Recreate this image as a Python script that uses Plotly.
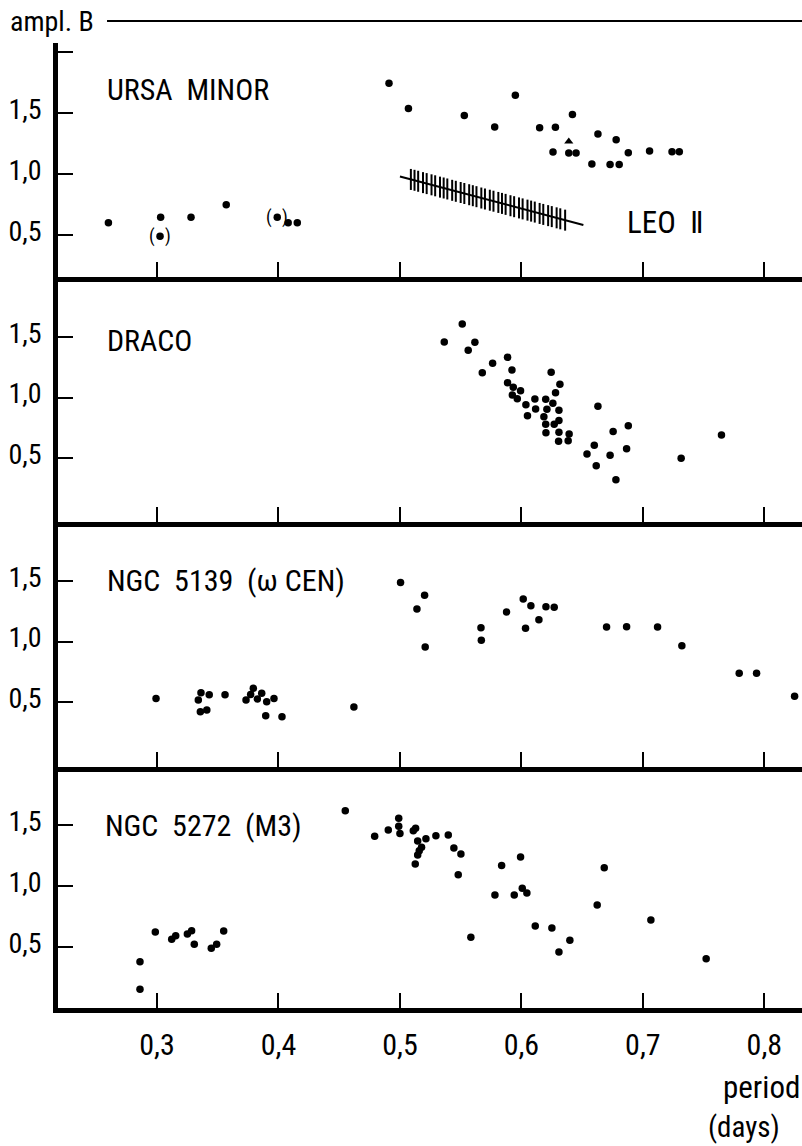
import plotly.graph_objects as go

# ---------------- data ----------------
X_TICKS = [0.3, 0.4, 0.5, 0.6, 0.7, 0.8]
X_TICK_TEXT = ["0,3", "0,4", "0,5", "0,6", "0,7", "0,8"]
Y_TICKS = [0.5, 1.0, 1.5]
Y_TICK_TEXT = ["0,5", "1,0", "1,5"]

# URSA MINOR
URSA_PERIOD = [0.260, 0.303, 0.328, 0.357, 0.408, 0.4155, 0.491, 0.507, 0.553, 0.578,
               0.595, 0.615, 0.628, 0.642, 0.626, 0.639, 0.645, 0.663, 0.678, 0.688,
               0.7055, 0.724, 0.730, 0.658, 0.673, 0.6805]
URSA_AMPL = [0.60, 0.645, 0.645, 0.746, 0.60, 0.60, 1.74, 1.535, 1.478, 1.383,
             1.642, 1.377, 1.38, 1.486, 1.178, 1.17, 1.17, 1.325, 1.279, 1.172,
             1.186, 1.18, 1.18, 1.08, 1.076, 1.076]
URSA_UNCERTAIN_PERIOD = [0.3025, 0.399]
URSA_UNCERTAIN_AMPL = [0.49, 0.645]
URSA_TRIANGLE_PERIOD = [0.639]
URSA_TRIANGLE_AMPL = [1.265]

# LEO II mean relation and individual stars (hatches)
LEO_LINE_PERIOD = [0.500, 0.651]
LEO_LINE_AMPL = [0.978, 0.582]
LEO_PERIOD = [0.509, 0.512, 0.515, 0.519, 0.522, 0.526, 0.529, 0.533, 0.536, 0.539,
              0.543, 0.546, 0.550, 0.553, 0.557, 0.560, 0.563, 0.567, 0.570, 0.574,
              0.577, 0.581, 0.584, 0.587, 0.591, 0.594, 0.598, 0.601, 0.605, 0.608,
              0.611, 0.615, 0.618, 0.622, 0.625, 0.629, 0.632, 0.636]
LEO_AMPL = [0.954, 0.947, 0.939, 0.928, 0.920, 0.910, 0.902, 0.891, 0.884, 0.876,
            0.865, 0.857, 0.847, 0.839, 0.829, 0.821, 0.813, 0.802, 0.794, 0.784,
            0.776, 0.766, 0.758, 0.750, 0.739, 0.731, 0.721, 0.713, 0.703, 0.695,
            0.687, 0.676, 0.668, 0.658, 0.650, 0.640, 0.632, 0.621]

# DRACO
DRACO_PERIOD = [0.5365, 0.5513, 0.5617, 0.5562, 0.5678, 0.5763, 0.5886, 0.5922, 0.5886, 0.5933,
                0.5993, 0.5925, 0.5966, 0.6037, 0.6111, 0.6117, 0.605, 0.620, 0.6245, 0.6317,
                0.6281, 0.6259, 0.621, 0.6185, 0.6309, 0.620, 0.627, 0.6309, 0.6202, 0.6309,
                0.6393, 0.6306, 0.6385, 0.663, 0.6755, 0.688, 0.660, 0.654, 0.673, 0.6866,
                0.6616, 0.6778, 0.7315, 0.7647]
DRACO_AMPL = [1.459, 1.607, 1.456, 1.39, 1.205, 1.283, 1.332, 1.227, 1.122, 1.084,
              1.056, 1.02, 0.99, 0.94, 0.988, 0.905, 0.85, 0.985, 1.208, 1.109,
              1.04, 0.952, 0.902, 0.841, 0.894, 0.778, 0.778, 0.81, 0.709, 0.712,
              0.698, 0.638, 0.643, 0.927, 0.72, 0.767, 0.605, 0.533, 0.522, 0.577,
              0.436, 0.321, 0.497, 0.69]

# NGC 5139 (omega Cen)
OMEGA_PERIOD = [0.2992, 0.3362, 0.334, 0.343, 0.3357, 0.341, 0.356, 0.3733, 0.3793, 0.3771,
                0.3826, 0.3862, 0.3903, 0.3963, 0.3895, 0.4029, 0.4621, 0.5005, 0.5203, 0.514,
                0.5208, 0.5667, 0.567, 0.5878, 0.6015, 0.6078, 0.6034, 0.6144, 0.6202, 0.627,
                0.6701, 0.6866, 0.7121, 0.7321, 0.7793, 0.7936, 0.8249]
OMEGA_AMPL = [0.53, 0.577, 0.517, 0.56, 0.42, 0.434, 0.56, 0.517, 0.613, 0.563,
              0.525, 0.572, 0.503, 0.53, 0.387, 0.379, 0.459, 1.488, 1.382, 1.269,
              0.955, 1.114, 1.01, 1.244, 1.351, 1.296, 1.109, 1.18, 1.288, 1.283,
              1.12, 1.123, 1.12, 0.965, 0.737, 0.737, 0.547]

# NGC 5272 (M3)
M3_PERIOD = [0.286, 0.286, 0.2986, 0.3121, 0.3154, 0.325, 0.3285, 0.3307, 0.3447, 0.3491,
             0.3549, 0.455, 0.4792, 0.4904, 0.4990, 0.4990, 0.5000, 0.511, 0.5129, 0.5146,
             0.5214, 0.5178, 0.5159, 0.5146, 0.5126, 0.5296, 0.5398, 0.5444, 0.5502, 0.548,
             0.5584, 0.5837, 0.5993, 0.5782, 0.5941, 0.6007, 0.6045, 0.6114, 0.6251, 0.6399,
             0.6309, 0.6624, 0.6682, 0.7066, 0.7521]
M3_AMPL = [0.38, 0.153, 0.623, 0.563, 0.593, 0.607, 0.634, 0.522, 0.489, 0.522,
           0.631, 1.617, 1.407, 1.459, 1.555, 1.49, 1.43, 1.453, 1.473, 1.369,
           1.388, 1.317, 1.289, 1.254, 1.18, 1.412, 1.418, 1.311, 1.262, 1.093,
           0.58, 1.167, 1.238, 0.926, 0.926, 0.981, 0.943, 0.672, 0.656, 0.555,
           0.459, 0.844, 1.15, 0.721, 0.404]

PANEL_NAMES = ["URSA  MINOR", "DRACO", "NGC  5139  (\u03c9 CEN)", "NGC  5272  (M3)"]

# ---------------- layout geometry ----------------
FONT = "Roboto Condensed, DejaVu Sans Condensed, sans-serif"
X_RANGE = [0.2185, 0.831]
Y_DOMAINS = [[0.75751, 1.0], [0.50363, 0.75751], [0.24974, 0.50363], [0.0, 0.24974]]
Y_RANGES = [[0.156, 2.07], [-0.029, 1.996], [-0.037, 1.988], [0.0, 1.975]]
LABEL_POS = [(0.2572, 1.689), (0.2572, 1.475), (0.2572, 1.508), (0.2556, 1.492)]

fig = go.Figure()

marker_dot = dict(color="black", size=7.5)

def add(xs, ys, i, **kw):
    suffix = "" if i == 1 else str(i)
    fig.add_trace(go.Scatter(x=xs, y=ys, xaxis="x" + suffix, yaxis="y" + suffix,
                             showlegend=False, hoverinfo="skip", **kw))

add(URSA_PERIOD, URSA_AMPL, 1, mode="markers", marker=marker_dot)
add(URSA_UNCERTAIN_PERIOD, URSA_UNCERTAIN_AMPL, 1, mode="markers", marker=marker_dot)
add(URSA_TRIANGLE_PERIOD, URSA_TRIANGLE_AMPL, 1, mode="markers",
    marker=dict(color="black", size=8, symbol="triangle-up"))
add(LEO_LINE_PERIOD, LEO_LINE_AMPL, 1, mode="lines", line=dict(color="black", width=2))
add(LEO_PERIOD, LEO_AMPL, 1, mode="markers",
    marker=dict(symbol="line-ns", size=15, color="black", line=dict(color="black", width=2)))
add(DRACO_PERIOD, DRACO_AMPL, 2, mode="markers", marker=marker_dot)
add(OMEGA_PERIOD, OMEGA_AMPL, 3, mode="markers", marker=marker_dot)
add(M3_PERIOD, M3_AMPL, 4, mode="markers", marker=marker_dot)

layout = dict(
    width=802, height=1146,
    margin=dict(l=58, r=0, t=43, b=138),
    paper_bgcolor="white", plot_bgcolor="white",
    font=dict(family=FONT, color="black", size=30),
    showlegend=False,
)

for i in range(1, 5):
    suffix = "" if i == 1 else str(i)
    layout["xaxis" + suffix] = dict(
        range=X_RANGE, domain=[0, 1], anchor="y" + suffix,
        showline=True, linewidth=4.5, linecolor="black",
        ticks="inside", ticklen=15, tickwidth=1.6, tickcolor="black",
        tickvals=X_TICKS, ticktext=X_TICK_TEXT,
        showticklabels=(i == 4), tickfont=dict(size=30, family=FONT),
        ticklabelstandoff=6, automargin=False,
        showgrid=False, zeroline=False, fixedrange=True,
    )
    yt = Y_TICKS + ([2.0] if i == 1 else [])
    ytt = Y_TICK_TEXT + ([""] if i == 1 else [])
    layout["yaxis" + suffix] = dict(
        range=Y_RANGES[i - 1], domain=Y_DOMAINS[i - 1], anchor="x" + suffix,
        showline=True, linewidth=4.5, linecolor="black",
        ticks="inside", ticklen=15, tickwidth=1.6, tickcolor="black",
        tickvals=yt, ticktext=ytt, tickfont=dict(size=28, family=FONT),
        ticklabelstandoff=6, ticklabelshift=-4, automargin=False,
        showgrid=False, zeroline=False, fixedrange=True,
    )

fig.update_layout(**layout)

annotations = []
for i, (name, (ax, ay)) in enumerate(zip(PANEL_NAMES, LABEL_POS), start=1):
    suffix = "" if i == 1 else str(i)
    annotations.append(dict(x=ax, y=ay, xref="x" + suffix, yref="y" + suffix,
                            text=name, showarrow=False, xanchor="left", yanchor="middle",
                            font=dict(size=30, family=FONT)))

annotations.append(dict(x=0.719, y=0.598, xref="x", yref="y", text="LEO  \u2161",
                        showarrow=False, xanchor="center", yanchor="middle",
                        font=dict(size=31, family=FONT)))

for px, py in zip(URSA_UNCERTAIN_PERIOD, URSA_UNCERTAIN_AMPL):
    for ch, sh in (("(", -8), (")", 8)):
        annotations.append(dict(x=px, y=py, xref="x", yref="y", text=ch, xshift=sh,
                                showarrow=False, xanchor="center", yanchor="middle",
                                font=dict(size=18, family=FONT)))

annotations.append(dict(x=-0.0672, y=1.0218, xref="paper", yref="paper", text="ampl. B",
                        showarrow=False, xanchor="left", yanchor="middle",
                        font=dict(size=28, family=FONT)))
annotations.append(dict(x=1.0, y=-0.0829, xref="paper", yref="paper", text="period",
                        showarrow=False, xanchor="right", yanchor="middle",
                        font=dict(size=31, family=FONT)))
annotations.append(dict(x=0.922, y=-0.1233, xref="paper", yref="paper", text="(days)",
                        showarrow=False, xanchor="center", yanchor="middle",
                        font=dict(size=29, family=FONT)))

fig.update_layout(annotations=annotations)

fig.add_shape(type="line", xref="paper", yref="paper", x0=0.0659, x1=1.0,
              y0=1.0228, y1=1.0228, line=dict(color="black", width=2))

fig.write_html("out.html", config={"displayModeBar": False},
               post_script="document.body.style.margin='0';")
